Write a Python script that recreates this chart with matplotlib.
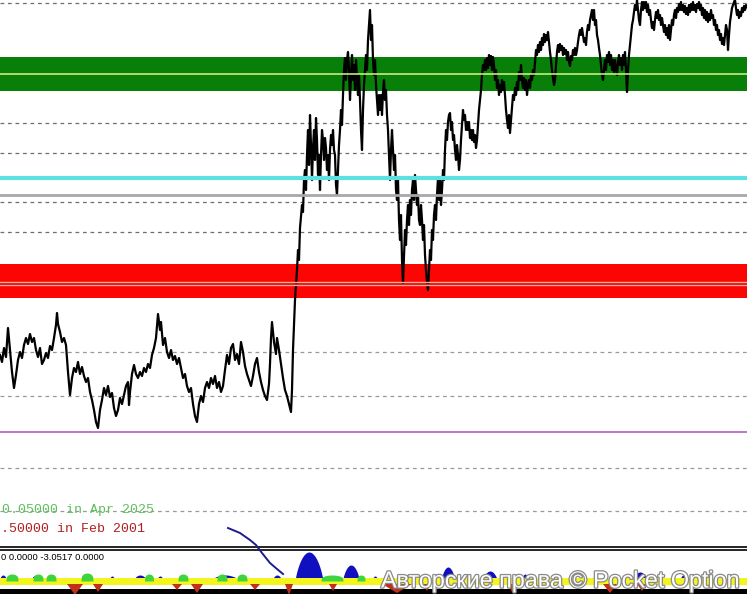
import matplotlib
matplotlib.use("Agg")
import matplotlib.pyplot as plt
import matplotlib.patheffects as pe
from matplotlib.lines import Line2D
import numpy as np

# ---------------- data ----------------
# price path (bar index, price in points)
bar_idx = [0, 2, 4, 6, 8, 10, 12, 14, 16, 18, 20, 22, 24, 26, 28, 30, 32, 34, 36, 38, 40, 42, 44, 46, 48,
           50, 52, 54, 56, 57, 58, 60, 62, 64, 66, 68, 70, 72, 74, 76, 78, 80, 82, 84, 86, 88, 90, 92, 94,
           96, 98, 100, 102, 104, 106, 108, 110, 112, 114, 116, 118, 120, 122, 124, 126, 128, 129, 130,
           132, 134, 136, 138, 140, 142, 144, 146, 148, 150, 152, 154, 156, 158, 160, 161, 163, 165, 167,
           169, 171, 173, 175, 177, 179, 181, 183, 185, 187, 189, 191, 193, 195, 197, 199, 201, 203, 205,
           207, 209, 211, 213, 215, 217, 219, 221, 223, 225, 227, 229, 231, 233, 235, 237, 239, 241, 243,
           245, 247, 249, 251, 253, 255, 257, 259, 261, 263, 265, 267, 269, 270, 271, 272, 274, 276, 277,
           279, 281, 283, 285, 287, 289, 291, 292, 293, 295, 297, 298, 299, 300, 302, 303, 304, 305,
           306, 307, 308, 309, 310, 311, 312, 313, 314, 315, 316, 317, 318, 319, 320, 321, 322, 323, 324,
           325, 326, 327, 328, 329, 330, 331, 332, 333, 334, 335, 336, 337, 338, 339, 340, 341, 342, 343,
           344, 345, 346, 347, 348, 349, 350, 351, 352, 353, 354, 355, 356, 357, 358, 359, 360, 361, 362,
           363, 364, 365, 366, 367, 368, 369, 370, 371, 372, 373, 374, 375, 376, 377, 378, 379, 380, 381,
           382, 383, 384, 385, 386, 387, 388, 389, 390, 391, 392, 393, 394, 395, 396, 397, 398, 399, 400,
           401, 402, 403, 404, 405, 406, 407, 408, 409, 410, 411, 412, 413, 414, 415, 416, 417, 418, 419,
           420, 421, 422, 423, 424, 425, 426, 427, 428, 429, 430, 431, 432, 433, 434, 435, 436, 437, 438,
           439, 440, 441, 442, 443, 444, 445, 446, 447, 448, 449, 450, 451, 452, 453, 454, 455, 456, 457,
           458, 459, 460, 461, 462, 463, 464, 465, 466, 467, 468, 469, 470, 471, 472, 473, 474, 475, 476,
           477, 478, 479, 480, 481, 482, 483, 484, 485, 486, 487, 488, 489, 490, 491, 492, 493, 494, 495,
           496, 497, 498, 499, 500, 501, 502, 503, 504, 505, 506, 507, 508, 509, 510, 511, 512, 513, 514,
           515, 516, 517, 518, 519, 520, 521, 522, 523, 524, 525, 526, 527, 528, 529, 530, 531, 532, 533,
           534, 535, 536, 537, 538, 539, 540, 541, 542, 543, 544, 545, 546, 547, 548, 549, 550, 551, 552,
           553, 554, 555, 556, 557, 558, 559, 560, 561, 562, 563, 564, 565, 566, 567, 568, 569, 570, 571,
           572, 573, 574, 575, 576, 577, 578, 579, 580, 581, 582, 583, 584, 585, 586, 587, 588, 589, 590,
           591, 592, 593, 594, 595, 596, 597, 598, 599, 600, 601, 602, 603, 604, 605, 606, 607, 608, 609,
           610, 611, 612, 613, 614, 615, 616, 617, 618, 619, 620, 621, 622, 623, 624, 625, 626, 627, 628,
           629, 630, 631, 632, 633, 634, 635, 636, 637, 638, 639, 640, 641, 642, 643, 644, 645, 646, 647,
           648, 649, 650, 651, 652, 653, 654, 655, 656, 657, 658, 659, 660, 661, 662, 663, 664, 665, 666,
           667, 668, 669, 670, 671, 672, 673, 674, 675, 676, 677, 678, 679, 680, 681, 682, 683, 684, 685,
           686, 687, 688, 689, 690, 691, 692, 693, 694, 695, 696, 697, 698, 699, 700, 701, 702, 703, 704,
           705, 706, 707, 708, 709, 710, 711, 712, 713, 714, 715, 716, 717, 718, 719, 720, 721, 722, 723,
           724, 725, 726, 727, 728, 729, 730, 731, 732, 733, 734, 735, 736, 737, 738, 739, 740, 741, 742,
           743, 744, 745, 746, 747]
price = [245, 238, 252, 243, 272, 250, 228, 212, 225, 240, 248, 242, 255, 262, 256, 266, 258, 262, 250, 243,
         252, 236, 240, 247, 242, 254, 250, 262, 275, 287, 276, 268, 258, 262, 255, 228, 205, 222, 232,
         228, 238, 226, 233, 224, 218, 222, 208, 200, 190, 178, 172, 190, 200, 212, 205, 214, 203, 207,
         192, 184, 190, 202, 196, 205, 214, 218, 195, 208, 226, 235, 226, 222, 228, 224, 232, 228, 236,
         232, 245, 252, 262, 286, 270, 278, 255, 262, 248, 242, 250, 240, 244, 236, 242, 232, 222, 226,
         214, 208, 212, 196, 184, 178, 196, 204, 198, 212, 218, 212, 222, 216, 224, 212, 218, 208, 214,
         230, 245, 236, 252, 256, 240, 246, 236, 258, 248, 234, 226, 220, 214, 224, 236, 242, 228, 218,
         210, 204, 200, 216, 236, 262, 278, 258, 246, 262, 250, 236, 222, 210, 204, 196, 188, 210, 250,
         300, 330, 350, 340, 372, 395, 388, 420, 430,
         410, 445, 470, 435, 485, 455, 420, 452, 470, 440, 482, 460, 425, 445, 410, 445, 470, 460, 440,
         462, 452, 430, 445, 420, 450, 465, 455, 470, 450, 445, 415, 405, 430, 455, 470, 490, 475, 505,
         530, 542, 520, 540, 548, 530, 500, 525, 545, 520, 535, 510, 540, 520, 505, 525, 500, 470, 450,
         490, 515, 530, 545, 530, 560, 575, 590, 560, 575, 540, 525, 540, 515, 500, 485, 505, 490, 505,
         485, 508, 520, 500, 510, 485, 470, 445, 420, 450, 470, 450, 430, 445, 410, 400, 420, 380, 360,
         385, 340, 317, 345, 370, 355, 380, 395, 375, 400, 385, 410, 420, 400, 425, 410, 395, 405, 380,
         375, 395, 380, 360, 375, 345, 330, 318, 310, 330, 350, 340, 370, 360, 385, 395, 380, 405, 422,
         400, 420, 395, 410, 430, 420, 450, 470, 460, 478, 485, 487, 470, 478, 460, 465, 450, 440, 455,
         445, 430, 440, 460, 475, 490, 480, 485, 470, 478, 470, 478, 462, 470, 460, 470, 458, 465, 452,
         460, 475, 490, 500, 510, 525, 535, 530, 540, 530, 542, 532, 545, 535, 544, 530, 543, 535, 520,
         530, 512, 520, 505, 515, 508, 520, 510, 518, 505, 490, 480, 472, 485, 467, 480, 492, 505, 500,
         512, 505, 518, 510, 528, 520, 535, 520, 512, 522, 510, 520, 505, 515, 520, 512, 525, 520, 530,
         525, 538, 550, 545, 555, 548, 558, 550, 562, 555, 566, 558, 565, 560, 568, 558, 548, 540, 530,
         522, 515, 520, 535, 548, 555, 548, 556, 550, 554, 545, 552, 546, 550, 540, 548, 538, 534, 544,
         540, 550, 545, 552, 545, 550, 558, 565, 570, 565, 572, 565, 558, 562, 555, 568, 575, 570, 580,
         585, 590, 580, 590, 575, 580, 565, 560, 552, 545, 535, 525, 520, 530, 540, 530, 545, 538, 548,
         535, 545, 530, 540, 528, 540, 532, 525, 538, 545, 535, 542, 530, 545, 535, 548, 530, 508, 530,
         545, 555, 565, 575, 580, 588, 595, 590, 600, 590, 580, 575, 590, 598, 590, 598, 592, 598, 588,
         595, 585, 590, 580, 572, 578, 570, 580, 588, 582, 590, 580, 585, 575, 582, 575, 568, 575, 565,
         572, 562, 575, 560, 570, 580, 575, 585, 590, 582, 592, 588, 596, 590, 598, 590, 595, 588, 594,
         586, 592, 585, 595, 588, 596, 590, 598, 590, 595, 588, 596, 592, 598, 590, 595, 585, 592, 582,
         590, 580, 588, 578, 586, 580, 590, 582, 585, 575, 580, 570, 575, 565, 570, 560, 566, 556, 562,
         555, 565, 575, 570, 550, 565, 578, 585, 592, 595, 598, 600, 592, 585, 590, 582, 588, 584, 592,
         588, 594, 590, 595, 593]

# horizontal levels
grid_levels_dark = [597, 477, 447, 398, 368]
grid_levels_light = [248, 204, 132, 89]
resistance_zone = (509, 543)
resistance_mid = 526
support_zone = (302, 336)
support_lines = (318, 315)
cyan_level = 422
gray_level = 405
purple_level = 168

# indicator panel
blue_x = [3, 37, 112, 140, 160, 225, 277, 309, 351, 375, 448, 490, 525, 545, 640, 683]
blue_w = [8, 14, 6, 14, 7, 30, 10, 28, 17, 6, 14, 15, 7, 10, 15, 6]
blue_h = [6, 6, 5, 6, 5, 6, 6, 29, 16, 5, 14, 10, 7, 6, 9, 6]

green_x = [12, 38, 51, 87, 149, 183, 222, 242, 332, 361]
green_w = [12, 10, 10, 12, 9, 10, 10, 10, 22, 8]
green_h = [7, 7, 7, 8, 7, 7, 7, 7, 6, 6]

red_x = [75, 98, 177, 197, 255, 289, 333, 397, 427, 512, 610, 642]
red_w = [16, 10, 10, 12, 10, 8, 8, 30, 8, 9, 14, 10]
red_d = [11, 8, 6, 9, 6, 11, 7, 9, 7, 8, 9, 7]

label_high = "0.05000 in Apr 2025"
label_low = ".50000 in Feb 2001"
indicator_label = "0 0.0000 -3.0517 0.0000"
watermark = "Авторские права © Pocket Option"

# ---------------- figure ----------------
W, H = 747, 594
fig = plt.figure(figsize=(W / 100, H / 100), dpi=100)
fig.patch.set_facecolor("white")

ax = fig.add_axes([0, 49 / H, 1, 545 / H])
ax.set_xlim(0, 747)
ax.set_ylim(55, 600)
ax.axis("off")

for lv in grid_levels_dark:
    ax.axhline(lv, color="#6e6e6e", lw=0.9, ls=(0, (3, 3)), zorder=1)
for lv in grid_levels_light:
    ax.axhline(lv, color="#9a9a9a", lw=0.9, ls=(0, (3, 3)), zorder=1)

ax.axhspan(*resistance_zone, color="#087f08", lw=0, zorder=2)
ax.axhspan(*support_zone, color="#fb0505", lw=0, zorder=2)

ax.plot(bar_idx, price, color="black", lw=1.6, zorder=3)

ax.axhline(resistance_mid, color="#d8f58c", lw=1.1, zorder=4)
ax.axhline(support_lines[0], color="#f3b48a", lw=1.0, zorder=4)
ax.axhline((support_lines[0] + support_lines[1]) / 2, color="#c41010", lw=1.0, zorder=4)
ax.axhline(support_lines[1], color="#ff9c9c", lw=1.0, zorder=4)
ax.axhline(cyan_level, color="#5ce0e4", lw=3.0, zorder=4)
ax.axhline(gray_level, color="#a8a8a8", lw=2.0, zorder=4)
ax.axhline(purple_level, color="#b060c0", lw=1.2, zorder=4)

# text labels
fig.text(2 / W, 1 - 510 / H, label_high, color="#5cc05c", family="Liberation Mono",
         fontsize=9.5, va="center", ha="left")
fig.text(1 / W, 1 - 529 / H, label_low, color="#b02020", family="Liberation Mono",
         fontsize=9.5, va="center", ha="left")

# separator double line
for yy in (546.5, 549.5):
    fig.add_artist(Line2D([0, 1], [1 - yy / H, 1 - yy / H], color="black", lw=1.2))

# indicator panel
ia = fig.add_axes([0, 0, 1, 44 / H])
ia.set_xlim(0, 747)
ia.set_ylim(-13, 31)
ia.axis("off")

fig.text(1 / W, 1 - 557 / H, indicator_label, color="black", family="Liberation Sans",
         fontsize=6.8, va="center", ha="left")

t = np.linspace(-1, 1, 41)
for cx, w, h in zip(blue_x, blue_w, blue_h):
    ia.fill_between(cx + t * w / 2, 0, h * (1 - t ** 2) ** 0.8, color="#1010c0", lw=0, zorder=2)

ia.axhspan(-4, 3, color="#f5f51e", lw=0, zorder=3)
ia.axhspan(-13, -8, color="black", lw=0, zorder=3)

for cx, w, h in zip(green_x, green_w, green_h):
    ia.fill_between(cx + t * w / 2, 0, 1 + (h - 1) * (1 - t ** 2) ** 0.35, color="#3ed43e",
                    lw=0, zorder=4)

for cx, w, d in zip(red_x, red_w, red_d):
    ia.fill([cx - w / 2, cx + w / 2, cx], [-3, -3, -3 - d], color="#c0301a", lw=0, zorder=4)

# annotation stroke
arrow_px = [(228, 528), (240, 533), (250, 540), (256, 545), (262, 553), (270, 563), (277, 569),
            (283, 574)]
fig.add_artist(Line2D([p[0] / W for p in arrow_px], [1 - p[1] / H for p in arrow_px],
                      color="#1c1c8c", lw=1.4))

# watermark
fig.text(381 / W, 1 - 581 / H, watermark, color="white", family="Liberation Sans",
         fontsize=16.8, va="center", ha="left",
         path_effects=[pe.withStroke(linewidth=1.8, foreground="#8a8a8a")])

fig.savefig("out.png", dpi=100, facecolor="white")
